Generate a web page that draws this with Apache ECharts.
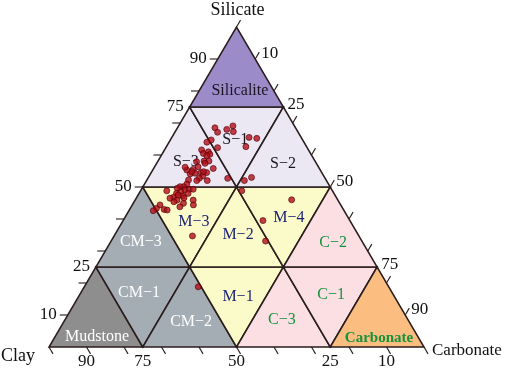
<!DOCTYPE html>
<html>
<head>
<meta charset="utf-8">
<script src="https://cdn.jsdelivr.net/npm/echarts@6/dist/echarts.min.js"></script>
<style>
  html, body { margin: 0; padding: 0; background: #fff; }
  #chart { width: 512px; height: 370px; }
</style>
</head>
<body>
<div id="chart"></div>
<script>
// samples, in percent (clay = 100 - silicate - carbonate)
const silicate = [68.5, 68.0, 69.1, 67.3, 67.1, 64.7, 64.0, 62.3, 65.5, 65.2, 62.6, 61.6, 60.5, 61.0, 60.2, 59.8,
  57.9, 58.1, 58.1, 56.3, 55.8, 55.5, 55.3, 56.2, 54.1, 54.3, 54.5, 54.5, 53.4, 52.7, 52.0, 52.0, 52.7, 52.2,
  50.9, 50.1, 50.1, 49.6, 49.1, 49.3, 49.3, 48.5, 48.0, 46.8, 48.8, 47.2, 48.0, 45.9, 45.4, 44.9, 45.9, 44.4,
  43.8, 44.4, 43.3, 43.0, 42.6, 42.8, 54.8, 46.5, 47.5, 46.6, 52.0, 53.0, 48.8, 46.0, 39.5, 33.1, 34.7, 18.8,
  57.4, 54.8];
const carbonate = [10.0, 13.4, 14.5, 15.5, 11.4, 10.9, 10.1, 13.8, 20.6, 22.8, 21.2, 9.9, 10.9, 12.0, 12.8, 12.2,
  10.4, 12.3, 13.6, 11.6, 15.9, 10.7, 9.1, 8.2, 10.6, 11.8, 13.3, 14.8, 14.3, 13.7, 13.4, 16.2, 21.3, 11.1,
  11.3, 10.8, 9.9, 9.4, 11.7, 12.8, 13.8, 10.9, 10.0, 9.8, 7.0, 12.0, 13.1, 11.2, 10.6, 13.4, 15.5, 16.3,
  13.0, 7.4, 7.0, 9.2, 6.5, 10.1, 10.7, 9.0, 10.7, 12.7, 26.1, 27.5, 27.0, 41.7, 37.3, 41.2, 20.9, 30.4,
  12.9, 13.8];

// lithofacies fields, row by row from the base (25% bands of silicate)
const regionRows = [
  ["Mudstone", "CM−1", "CM−2", "M−1", "C−3", "C−1", "Carbonate"],
  ["CM−3", "M−3", "M−2", "M−4", "C−2"],
  ["S−3", "S−1", "S−2"],
  ["Silicalite"]
];
// label anchors per field (silicate %, carbonate %)
const labelNames = ["Silicalite", "S−1", "S−2", "S−3", "M−3", "M−2", "M−4", "C−2",
  "CM−3", "CM−1", "CM−2", "M−1", "Mudstone", "C−3", "C−1", "Carbonate"];
const labelSil = [80.0, 64.7, 57.2, 57.8, 39.1, 35.0, 40.3, 32.5, 32.8, 16.9, 7.8, 15.6, 3.1, 8.4, 16.25, 2.8];
const labelCarb = [10.9, 17.3, 33.8, 7.6, 19.1, 32.9, 43.8, 59.5, 8.1, 15.55, 34.0, 42.6, 11.25, 57.9, 67.1, 86.6];

const tickValues = [10, 20, 30, 40, 50, 60, 70, 80, 90];
const tickLabels = [10, 25, 50, 75, 90];

const fillOf = (n) =>
  n === "Silicalite" ? "#9b8cc9" :
  n === "Mudstone" ? "#8e8e8e" :
  n === "Carbonate" ? "#fbbd80" :
  n.startsWith("S") ? "#ebe8f4" :
  n.startsWith("CM") ? "#a4adb3" :
  n.startsWith("M") ? "#fbfbc9" : "#fbdfe3";
const textOf = (n) =>
  n === "Silicalite" || n.startsWith("S") ? "#1b1420" :
  n === "Mudstone" || n.startsWith("CM") ? "#ffffff" :
  n.startsWith("M") ? "#1d2377" : "#16923c";

// ternary (silicate, carbonate) -> plot coords
const tern = (s, c) => [c + s / 2, s];

const triangles = [];
regionRows.forEach((row, r) => {
  const s0 = r * 25, s1 = s0 + 25;
  row.forEach((name, j) => {
    const k = Math.floor(j / 2);
    const pts = j % 2 === 0
      ? [[s0, k * 25], [s0, (k + 1) * 25], [s1, k * 25]]
      : [[s1, k * 25], [s1, (k + 1) * 25], [s0, (k + 1) * 25]];
    triangles.push({ name, pts });
  });
});

const serif = '"Liberation Serif", "Times New Roman", serif';
const LINE = "#2a1c1c";

const chart = echarts.init(document.getElementById("chart"));

chart.setOption({
  animation: false,
  grid: { left: 49, top: 27, width: 375, height: 320 },
  xAxis: { type: "value", min: 0, max: 100, show: false },
  yAxis: { type: "value", min: 0, max: 100, show: false },
  series: [
    {
      type: "custom",
      data: triangles.map((t, i) => [i]),
      encode: { x: 0, y: 0 },
      silent: true,
      renderItem: (params, api) => {
        const t = triangles[api.value(0)];
        return {
          type: "polygon",
          shape: { points: t.pts.map((p) => api.coord(tern(p[0], p[1]))) },
          style: { fill: fillOf(t.name), stroke: LINE, lineWidth: 1.5, lineJoin: "miter" }
        };
      }
    },
    {
      type: "custom",
      data: labelNames.map((n, i) => [i]),
      encode: { x: 0, y: 0 },
      silent: true,
      z: 3,
      renderItem: (params, api) => {
        const i = api.value(0);
        const n = labelNames[i];
        const p = api.coord(tern(labelSil[i], labelCarb[i]));
        const bold = n === "Carbonate";
        return {
          type: "text",
          x: p[0], y: p[1],
          style: {
            text: n, fill: textOf(n),
            font: (bold ? "bold 15px " : "16px ") + serif,
            align: "center", verticalAlign: "middle"
          }
        };
      }
    },
    {
      type: "scatter",
      data: silicate.map((s, i) => tern(s, carbonate[i])),
      symbol: "circle",
      symbolSize: 6,
      z: 4,
      itemStyle: { color: "#b30f19", borderColor: "#520006", borderWidth: 0.8 }
    },
    {
      type: "custom",
      data: [[0]],
      encode: { x: 0, y: 0 },
      silent: true,
      z: 5,
      renderItem: (params, api) => {
        const kids = [];
        const A = api.coord(tern(100, 0)), L = api.coord(tern(0, 0)), R = api.coord(tern(0, 100));
        const unit = (a, b) => { const dx = b[0] - a[0], dy = b[1] - a[1], d = Math.hypot(dx, dy); return [dx / d, dy / d]; };
        const up = unit(L, A), down = unit(A, R);
        const tick = (p, d, len) => kids.push({
          type: "line",
          shape: { x1: p[0], y1: p[1], x2: p[0] + d[0] * len, y2: p[1] + d[1] * len },
          style: { stroke: LINE, lineWidth: 1.1 }
        });
        const txt = (text, x, y, align, va) => kids.push({
          type: "text", x, y,
          style: { text: String(text), fill: "#111", font: "17px " + serif, align, verticalAlign: va }
        });
        // left side: silicate; right side: carbonate; base: clay
        tickValues.forEach((v) => tick(api.coord(tern(v, 0)), [-1, 0], 8));
        [0].concat(tickValues).forEach((v) => tick(api.coord(tern(100 - v, v)), up, 8));
        [0].concat(tickValues, [100]).forEach((v) => tick(api.coord(tern(0, 100 - v)), down, 8));
        tickLabels.forEach((v) => {
          const ticked = v % 10 === 0;
          const pl = api.coord(tern(v, 0));
          txt(v, pl[0] - (ticked ? 11 : 6), pl[1], "right", "middle");
          const pr = api.coord(tern(100 - v, v));
          txt(v, pr[0] + (ticked ? 6 : 4), pr[1] - (ticked ? 5 : 2), "left", "middle");
          const pb = api.coord(tern(0, 100 - v));
          txt(v, pb[0], pb[1] + 15, "center", "middle");
        });
        kids.push({ type: "text", x: A[0] + 1, y: 10,
          style: { text: "Silicate", fill: "#111", font: "18px " + serif, align: "center", verticalAlign: "middle" } });
        kids.push({ type: "text", x: 1, y: 356,
          style: { text: "Clay", fill: "#111", font: "18px " + serif, align: "left", verticalAlign: "middle" } });
        kids.push({ type: "text", x: 432, y: 351,
          style: { text: "Carbonate", fill: "#111", font: "17px " + serif, align: "left", verticalAlign: "middle" } });
        return { type: "group", children: kids };
      }
    }
  ]
});

window.addEventListener("resize", () => chart.resize());
</script>
</body>
</html>
